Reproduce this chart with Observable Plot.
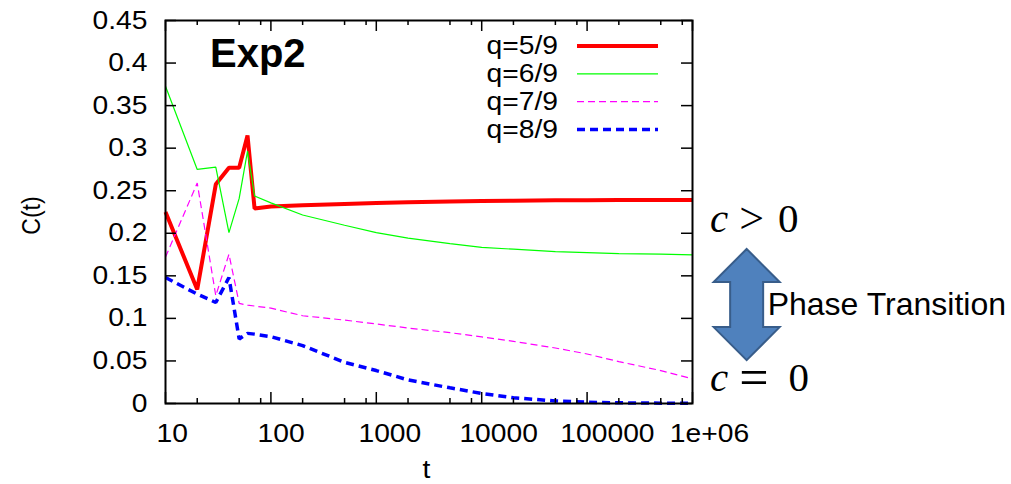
<!DOCTYPE html>
<html>
<head>
<meta charset="utf-8">
<script src="https://cdn.jsdelivr.net/npm/d3@7"></script>
<script src="https://cdn.jsdelivr.net/npm/@observablehq/plot@0.6"></script>
<style>
  body { margin: 0; background: #fff; }
  #chart { width: 1011px; height: 484px; }
</style>
</head>
<body>
<div id="chart"></div>
<script>
// ---- data ----
const tValues = [10, 20, 30, 40, 50, 60, 70, 100, 200, 500, 1000, 2000, 5000, 10000, 20000, 50000, 100000, 200000, 500000, 1000000];
const q59 = [0.225, 0.134, 0.2575, 0.277, 0.277, 0.315, 0.229, 0.2315, 0.2330, 0.2345, 0.2355, 0.2365, 0.2373, 0.2379, 0.2383, 0.2387, 0.2389, 0.239, 0.239, 0.239];
const q69 = [0.3727, 0.275, 0.2777, 0.2008, 0.241, 0.2965, 0.2438, 0.2357, 0.2215, 0.2094, 0.2008, 0.1942, 0.1879, 0.1834, 0.1813, 0.1785, 0.1773, 0.1761, 0.1754, 0.1746];
const q79 = [0.172, 0.259, 0.1266, 0.1754, 0.1176, 0.1155, 0.1145, 0.112, 0.1031, 0.098, 0.0934, 0.0887, 0.0832, 0.0783, 0.0730, 0.0652, 0.0582, 0.0492, 0.0387, 0.029];
const q89 = [0.148, 0.1285, 0.1187, 0.148, 0.0758, 0.0824, 0.0815, 0.0785, 0.068, 0.0484, 0.0387, 0.0277, 0.0184, 0.0118, 0.0068, 0.003, 0.0015, 0.0008, 0.0004, 0.0002];

const seriesNames = ["q=5/9", "q=6/9", "q=7/9", "q=8/9"];
const seriesValues = [q59, q69, q79, q89];
const seriesColors = ["#ff0000", "#00ff00", "#ff00ff", "#0000ff"];
const seriesWidths = [4, 1.2, 1.2, 3.5];
const seriesDash = [null, null, "7,4", "8,5"];

const xTickValues = [10, 100, 1000, 10000, 100000, 1000000];
const xTickLabels = ["10", "100", "1000", "10000", "100000", "1e+06"];
const xMinorMultipliers = [2, 5, 8];
const yTickValues = [0, 0.05, 0.1, 0.15, 0.2, 0.25, 0.3, 0.35, 0.4, 0.45];
const yTickLabels = ["0", "0.05", "0.1", "0.15", "0.2", "0.25", "0.3", "0.35", "0.4", "0.45"];

const titleText = "Exp2";
const xLabel = "t";
const yLabel = "C(t)";
const upperPhase = ["c", ">", "0"];
const lowerPhase = ["c", "=", "0"];
const phaseText = "Phase Transition";
// annotation anchors in data units (t, C)
const upperPhaseAt = [1.48e6, 0.2168];
const lowerPhaseAt = [1.48e6, 0.0311];
const arrowAt = [3.3e6, 0.181, 0.0504];

// ---- layout ----
const W = 1011, H = 484;
const mL = 165, mR = 319, mT = 20, mB = 81;
const frameW = W - mL - mR, frameH = H - mT - mB;
const majorLen = 11, minorLen = 5;
const FONT = "'Liberation Sans', Arial, Helvetica, sans-serif";
const stretch = 1.13;

const xMinor = xTickValues.slice(0, -1).flatMap(v => xMinorMultipliers.map(m => v * m));

const lineMarks = seriesValues.map((vals, s) =>
  Plot.line(tValues.map((tt, i) => ({t: tt, c: vals[i]})), {
    x: "t", y: "c",
    stroke: seriesColors[s],
    strokeWidth: seriesWidths[s],
    strokeDasharray: seriesDash[s] ?? undefined,
    strokeLinejoin: "miter",
    strokeLinecap: "butt"
  })
);

const plot = Plot.plot({
  width: W, height: H,
  marginLeft: mL, marginRight: mR, marginTop: mT, marginBottom: mB,
  style: {fontFamily: FONT, fontSize: "25px", background: "white", overflow: "visible"},
  x: {type: "log", domain: [10, 1e6], axis: null},
  y: {domain: [0, 0.45], axis: null},
  marks: [
    ...lineMarks,
    Plot.tickX(xTickValues, {x: d => d, insetTop: frameH - majorLen, stroke: "#000", strokeWidth: 1.5}),
    Plot.tickX(xTickValues, {x: d => d, insetBottom: frameH - majorLen, stroke: "#000", strokeWidth: 1.5}),
    Plot.tickX(xMinor, {x: d => d, insetTop: frameH - minorLen, stroke: "#000", strokeWidth: 1.5}),
    Plot.tickX(xMinor, {x: d => d, insetBottom: frameH - minorLen, stroke: "#000", strokeWidth: 1.5}),
    Plot.tickY(yTickValues, {y: d => d, insetRight: frameW - majorLen, stroke: "#000", strokeWidth: 1.5}),
    Plot.tickY(yTickValues, {y: d => d, insetLeft: frameW - majorLen, stroke: "#000", strokeWidth: 1.5}),
    Plot.frame({stroke: "#000", strokeWidth: 2}),
    Plot.text(xTickValues, {
      x: d => d, text: (d, i) => xTickLabels[i], frameAnchor: "bottom",
      dy: 38, fontSize: 25, fill: "#000"
    }),
    Plot.text(yTickValues, {
      y: d => d, text: (d, i) => yTickLabels[i], frameAnchor: "left",
      dx: -18, textAnchor: "end", fontSize: 25, fill: "#000"
    })
  ]
});

document.getElementById("chart").appendChild(plot);

const svg = d3.select(plot);
const xs = plot.scale("x"), ys = plot.scale("y");
const X = v => xs.apply(v), Y = v => ys.apply(v);

// horizontal stretch of the gnuplot-style tick labels (about each anchor point)
function stretchText(el) {
  const tr = el.getAttribute("transform");
  if (tr && /translate/.test(tr)) {
    el.setAttribute("transform", tr + ` scale(${stretch},1)`);
  } else {
    const x = +(el.getAttribute("x") || 0), y = +(el.getAttribute("y") || 0);
    el.setAttribute("transform", `translate(${x},${y}) scale(${stretch},1) translate(${-x},${-y})`);
  }
}
const textGroups = svg.selectAll("g[aria-label='text']").nodes();
textGroups.forEach((g, gi) => {
  d3.select(g).selectAll("text").each(function () {
    stretchText(this);
    if (gi === 0) this.setAttribute("dx", 3 * this.textContent.length);
  });
});

const ann = svg.append("g").attr("font-family", FONT).attr("text-anchor", "start");

ann.append("text")
  .attr("transform", `translate(31,${mT + frameH / 2 + 4}) scale(${stretch},1) rotate(-90)`)
  .attr("text-anchor", "middle").attr("dominant-baseline", "central")
  .attr("font-size", 23).text(yLabel);
ann.append("text")
  .attr("transform", `translate(${mL + frameW / 2 - 2},${H - 14}) scale(${stretch},1)`)
  .attr("text-anchor", "middle").attr("dominant-baseline", "central")
  .attr("font-size", 25).text(xLabel);

ann.append("text")
  .attr("x", mL + 45).attr("y", mT + 47)
  .attr("font-size", 40).attr("font-weight", "bold").text(titleText);

const legRight = mL + frameW;
seriesNames.forEach((name, s) => {
  const yy = mT + 26 + s * 27.8;
  ann.append("text")
    .attr("transform", `translate(${legRight - 134},${yy}) scale(${stretch},1)`)
    .attr("text-anchor", "end").attr("dominant-baseline", "central")
    .attr("font-size", 25).text(name);
  ann.append("line")
    .attr("x1", legRight - 115).attr("x2", legRight - 34)
    .attr("y1", yy).attr("y2", yy)
    .attr("stroke", seriesColors[s]).attr("stroke-width", seriesWidths[s])
    .attr("stroke-dasharray", seriesDash[s]);
});

function mathLabel(parts, at, relGap, opSize) {
  const tx = ann.append("text")
    .attr("x", X(at[0])).attr("y", Y(at[1]))
    .attr("dominant-baseline", "central")
    .attr("font-family", "'Liberation Serif', 'DejaVu Serif', serif")
    .attr("font-size", 41);
  tx.append("tspan").attr("font-style", "italic").text(parts[0]);
  tx.append("tspan").attr("dx", relGap[0]).attr("font-size", opSize).text(parts[1]);
  tx.append("tspan").attr("dx", relGap[1]).text(parts[2]);
}
mathLabel(upperPhase, upperPhaseAt, [11, 14], 44);
mathLabel(lowerPhase, lowerPhaseAt, [11, 20], 52);

const acx = X(arrowAt[0]), aTop = Y(arrowAt[1]), aBot = Y(arrowAt[2]);
const hw = 33, sw = 16.5, hh = 33;
const pts = [
  [acx, aTop], [acx + hw, aTop + hh], [acx + sw, aTop + hh], [acx + sw, aBot - hh],
  [acx + hw, aBot - hh], [acx, aBot], [acx - hw, aBot - hh], [acx - sw, aBot - hh],
  [acx - sw, aTop + hh], [acx - hw, aTop + hh]
];
ann.append("polygon")
  .attr("points", pts.map(p => p.join(",")).join(" "))
  .attr("fill", "#4f81bd").attr("stroke", "#385d8a").attr("stroke-width", 2);

ann.append("text")
  .attr("x", acx + 21).attr("y", (aTop + aBot) / 2 - 1)
  .attr("dominant-baseline", "central")
  .attr("font-size", 32).text(phaseText);
</script>
</body>
</html>
